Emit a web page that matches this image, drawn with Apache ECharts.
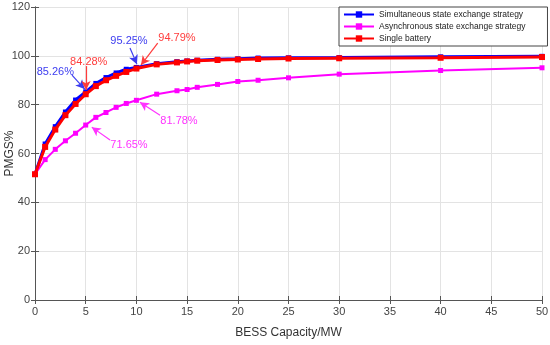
<!DOCTYPE html>
<html><head><meta charset="utf-8">
<script src="https://cdn.jsdelivr.net/npm/echarts@6/dist/echarts.min.js"></script>
<style>html,body{margin:0;padding:0;background:#fff}#c{width:550px;height:345px}</style>
</head><body><div id="c"></div>
<script>
const capacity = [0,1,2,3,4,5,6,7,8,9,10,12,14,15,16,18,20,22,25,30,40,50];
const simultaneous = [51.5,63.9,71.0,77.0,81.9,85.26,88.7,91.1,93.0,94.5,95.25,96.8,97.6,97.9,98.2,98.6,98.8,99.1,99.2,99.3,99.6,99.8];
const asynchronous = [51.5,57.5,61.7,65.2,68.3,71.65,74.8,76.8,78.9,80.5,81.78,84.3,85.7,86.2,87.1,88.3,89.5,90.0,91.0,92.5,94.0,95.1];
const single = [51.5,62.7,69.8,75.7,80.3,84.28,87.6,90.0,91.8,93.4,94.79,96.5,97.3,97.7,98.0,98.3,98.5,98.7,98.9,99.0,99.2,99.5];
const seriesNames = ['Simultaneous state exchange strategy','Asynchronous state exchange strategy','Single battery'];
const xTicks = [0,5,10,15,20,25,30,35,40,45,50];
const yTicks = [0,20,40,60,80,100,120];

// annotation: label text, label anchor (data space), arrow tail, arrow tip
const notesBlue = [
  {text:'85.26%', at:[2.0,93.3], from:[3.65,92.1], to:[4.9,86.4]},
  {text:'95.25%', at:[9.27,106], from:[9.37,103.2], to:[10.05,96.6]}
];
const notesRed = [
  {text:'84.28%', at:[5.3,97.4], from:[5.03,95.8], to:[5.03,86.0]},
  {text:'94.79%', at:[14.0,107.2], from:[12.1,105.2], to:[10.45,96.2]}
];
const notesMag = [
  {text:'81.78%', at:[14.2,73.3], from:[12.33,75.7], to:[10.35,81.0]},
  {text:'71.65%', at:[9.27,63.4], from:[7.4,65.5], to:[5.6,70.8]}
];

function pairs(ys){ return capacity.map((x,i)=>[x,ys[i]]); }
function marks(notes, color){
  return {
    markLine:{
      silent:true, animation:false,
      symbol:['none','arrow'], symbolSize:[7,9],
      lineStyle:{color:color,width:1.2,type:'solid'},
      label:{show:false},
      data: notes.map(n=>[{coord:n.from},{coord:n.to}])
    },
    markPoint:{
      silent:true, animation:false,
      symbol:'circle', symbolSize:0,
      label:{show:true,color:color,fontSize:11,fontFamily:'Liberation Sans, Arial, sans-serif',formatter:p=>p.name},
      data: notes.map(n=>({name:n.text, coord:n.at, value:0}))
    }
  };
}

const colors = ['#0000ff','#ff00ff','#ff0000'];
const textColors = ['#3c3cf0','#ff33ff','#ff3b3b'];
const font = 'Liberation Sans, Arial, sans-serif';

const chart = echarts.init(document.getElementById('c'), null, {renderer:'canvas'});
const axisCommon = {
  axisLine:{show:true,lineStyle:{color:'#555',width:1}},
  axisTick:{show:true,inside:true,length:4,lineStyle:{color:'#555'}},
  axisLabel:{color:'#444',fontSize:11,fontFamily:font},
  splitLine:{show:true,lineStyle:{color:'#e3e3e3',width:1}}
};
chart.setOption({
  animation:false,
  backgroundColor:'#fff',
  grid:{left:35,right:8,top:7,bottom:45,containLabel:false,outerBoundsMode:'none'},
  legend:{
    left:339, top:7, orient:'vertical',
    data:seriesNames,
    itemWidth:30, itemHeight:8, itemGap:3,
    padding:[3,22,3,4],
    borderColor:'#444', borderWidth:1, backgroundColor:'#fff',
    textStyle:{fontSize:8.5,fontFamily:font,color:'#222'}
  },
  xAxis:[
    Object.assign({}, axisCommon, {type:'value',min:0,max:50,interval:5,
      name:'BESS Capacity/MW',nameLocation:'middle',nameGap:27,nameMoveOverlap:false,
      nameTextStyle:{fontSize:12,fontFamily:font,color:'#333'},
      axisLabel:{color:'#444',fontSize:11,fontFamily:font,margin:6,
        formatter:v=>xTicks.includes(v)?String(v):''}}),
    {type:'value',min:0,max:50,interval:5,position:'top',
      axisLine:{show:true,lineStyle:{color:'#555'}},
      axisTick:{show:true,inside:true,length:4,lineStyle:{color:'#555'}},
      axisLabel:{show:false},splitLine:{show:false}}
  ],
  yAxis:[
    Object.assign({}, axisCommon, {type:'value',min:0,max:120,interval:20,
      name:'PMGS%',nameLocation:'middle',nameGap:19,nameMoveOverlap:false,
      nameTextStyle:{fontSize:12,fontFamily:font,color:'#333'},
      axisLabel:{color:'#444',fontSize:11,fontFamily:font,margin:5,
        formatter:v=>yTicks.includes(v)?String(v):''}}),
    {type:'value',min:0,max:120,interval:20,position:'right',
      axisLine:{show:true,lineStyle:{color:'#555'}},
      axisTick:{show:true,inside:true,length:4,lineStyle:{color:'#555'}},
      axisLabel:{show:false},splitLine:{show:false}}
  ],
  series:[
    Object.assign({name:seriesNames[0],type:'line',data:pairs(simultaneous),
      symbol:'rect',symbolSize:5,color:colors[0],
      lineStyle:{width:3,color:colors[0]},itemStyle:{color:colors[0]},z:2}, marks(notesBlue,textColors[0])),
    Object.assign({name:seriesNames[1],type:'line',data:pairs(asynchronous),
      symbol:'rect',symbolSize:5,color:colors[1],
      lineStyle:{width:2,color:colors[1]},itemStyle:{color:colors[1]},z:3}, marks(notesMag,textColors[1])),
    Object.assign({name:seriesNames[2],type:'line',data:pairs(single),
      symbol:'rect',symbolSize:6,color:colors[2],
      lineStyle:{width:3,color:colors[2]},itemStyle:{color:colors[2]},z:4}, marks(notesRed,textColors[2]))
  ]
});
</script></body></html>
